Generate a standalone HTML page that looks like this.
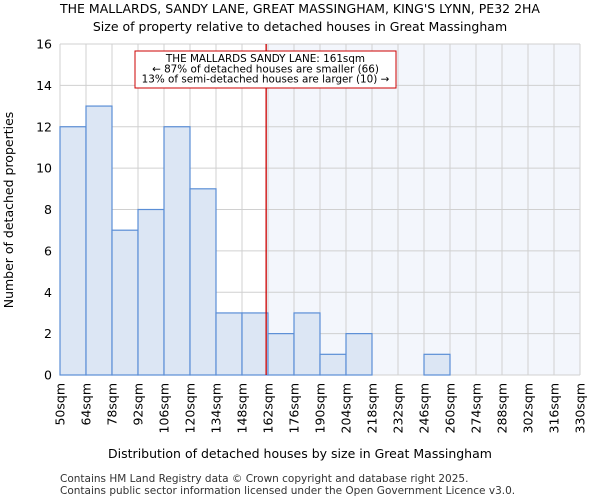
<!DOCTYPE html>
<html><head><meta charset="utf-8"><style>
body{margin:0;background:#fff}
svg{display:block;font-family:"DejaVu Sans","Liberation Sans",sans-serif}
</style></head><body>
<svg id="chart" width="600" height="500" viewBox="0 0 600 500">
<text x="300" y="13" text-anchor="middle" font-size="12.5">THE MALLARDS, SANDY LANE, GREAT MASSINGHAM, KING'S LYNN, PE32 2HA</text>
<text x="300" y="31" text-anchor="middle" font-size="12.5">Size of property relative to detached houses in Great Massingham</text>
<g id="plot"></g>
<text x="300" y="458" text-anchor="middle" font-size="12.5">Distribution of detached houses by size in Great Massingham</text>
<text transform="translate(13,210) rotate(-90)" text-anchor="middle" font-size="12.5">Number of detached properties</text>
<text x="60" y="482" font-size="10.5" fill="#333">Contains HM Land Registry data © Crown copyright and database right 2025.</text>
<text x="60" y="494" font-size="10.5" fill="#333">Contains public sector information licensed under the Open Government Licence v3.0.</text>
</svg>
<script>
const binStarts=[50,64,78,92,106,120,134,148,162,176,190,204,218,232,246,260,274,288,302,316];
const counts=[12,13,7,8,12,9,3,3,2,3,1,2,0,0,1,0,0,0,0,0];
const tickLabels=["50sqm","64sqm","78sqm","92sqm","106sqm","120sqm","134sqm","148sqm","162sqm","176sqm","190sqm","204sqm","218sqm","232sqm","246sqm","260sqm","274sqm","288sqm","302sqm","316sqm","330sqm"];
const yTicks=[0,2,4,6,8,10,12,14,16];
const propertySize=161;
const annotation=["THE MALLARDS SANDY LANE: 161sqm","← 87% of detached houses are smaller (66)","13% of semi-detached houses are larger (10) →"];

const X0=60,X1=580,Y0=375,Y1=44,xmin=50,xmax=330,ymax=16;
const xs=v=>X0+(v-xmin)/(xmax-xmin)*(X1-X0);
const ys=v=>Y0-v/ymax*(Y0-Y1);
const NS="http://www.w3.org/2000/svg";
const g=document.getElementById('plot');
function mk(t,a){const e=document.createElementNS(NS,t);for(const k in a)e.setAttribute(k,a[k]);g.appendChild(e);return e;}

const sh=mk('rect',{x:xs(propertySize),y:Y1,width:X1-xs(propertySize),height:Y0-Y1,fill:'#f3f6fc'});


for(const v of yTicks){
  const l=mk('line',{x1:X0,x2:X1,y1:ys(v),y2:ys(v),stroke:'#d0d0d0'});
  
  
  const t=mk('text',{x:X0-8,y:ys(v)+4.5,'text-anchor':'end','font-size':'12.5'});
  t.textContent=v;
  
  
}
tickLabels.forEach((lab,i)=>{
  const v=xmin+i*14;
  const l=mk('line',{x1:xs(v),x2:xs(v),y1:Y1,y2:Y0,stroke:'#d0d0d0'});
  
  
  const t=mk('text',{transform:`translate(${xs(v)+4.5},${Y0+8}) rotate(-90)`,'text-anchor':'end','font-size':'12.5'});
  t.textContent=lab;
  
  
});
binStarts.forEach((b,i)=>{
  if(!counts[i])return;
  const r=mk('rect',{x:xs(b),y:ys(counts[i]),width:xs(b+14)-xs(b),height:Y0-ys(counts[i]),fill:'#dce6f4',stroke:'#5b8ed6','stroke-width':1.2});
  
  
});
const rl=mk('line',{x1:xs(propertySize),x2:xs(propertySize),y1:Y1,y2:Y0,stroke:'#cc0000','stroke-width':1.3});


const box=mk('rect',{x:135,y:51,width:261,height:37,fill:'#fff',stroke:'#cc0000','stroke-width':1});


annotation.forEach((s,i)=>{
  const t=mk('text',{x:265.5,y:62+i*10.3,'text-anchor':'middle','font-size':'10.4'});
  t.textContent=s;
  
  
});
</script>
</body></html>
